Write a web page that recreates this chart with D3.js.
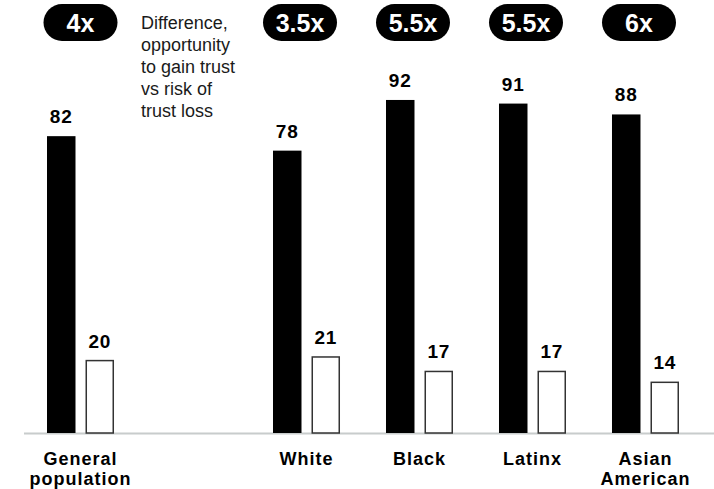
<!DOCTYPE html>
<html lang="en">
<head>
    <meta charset="UTF-8">
    <title>Trust gain vs trust loss</title>
    <script src="https://cdn.jsdelivr.net/npm/d3@7/dist/d3.min.js"></script>
    <style>
        body { margin: 0; background: #fff; font-family: "Liberation Sans", Arial, sans-serif; }
    </style>
</head>
<body>
    <div id="chart"></div>
    <script>
        // data ("" is the empty slot that holds the note)
        const categories = ["General population", "", "White", "Black", "Latinx", "Asian American"];
        const groups = ["General population", "White", "Black", "Latinx", "Asian American"];
        const trustGain = [82, 78, 92, 91, 88];
        const trustLoss = [20, 21, 17, 17, 14];
        const ratios = ["4x", "3.5x", "5.5x", "5.5x", "6x"];
        const noteLines = ["Difference,", "opportunity", "to gain trust", "vs risk of", "trust loss"];

        const width = 714, height = 489;
        const baseY = 433;

        const svg = d3.select("#chart").append("svg")
            .attr("width", width)
            .attr("height", height);

        const x = d3.scaleBand()
            .domain(categories)
            .range([24.4, 701.6])
            .paddingInner(0.407)
            .paddingOuter(0.2);

        const xSub = d3.scaleBand()
            .domain(["gain", "loss"])
            .range([0, x.bandwidth()])
            .paddingInner(0.26);

        const y = d3.scaleLinear().domain([0, 100]).range([baseY, 71]);

        const rows = groups.map((g, i) => ({
            group: g, gain: trustGain[i], loss: trustLoss[i], ratio: ratios[i], first: i === 0
        }));

        // baseline
        svg.append("line")
            .attr("x1", 24).attr("x2", width)
            .attr("y1", baseY + 0.5).attr("y2", baseY + 0.5)
            .attr("stroke", "#c8cccc")
            .attr("stroke-width", 2);

        const g = svg.selectAll("g.group")
            .data(rows)
            .enter().append("g")
            .attr("class", "group")
            .attr("transform", d => `translate(${x(d.group)},0)`);

        // black bars
        g.append("rect")
            .attr("x", xSub("gain"))
            .attr("y", d => y(d.gain))
            .attr("width", xSub.bandwidth())
            .attr("height", d => y(0) - y(d.gain))
            .attr("fill", "#000");

        // outlined bars
        g.append("rect")
            .attr("x", xSub("loss") + 0.75)
            .attr("y", d => y(d.loss))
            .attr("width", xSub.bandwidth() - 1.5)
            .attr("height", d => y(0) - y(d.loss))
            .attr("fill", "#fff")
            .attr("stroke", "#333")
            .attr("stroke-width", 1.5);

        // value labels
        g.append("text")
            .attr("x", xSub("gain") + xSub.bandwidth() / 2)
            .attr("y", d => y(d.gain) - 13)
            .attr("text-anchor", "middle")
            .style("font-size", "19px")
            .style("font-weight", "bold")
            .style("letter-spacing", "0.8px")
            .text(d => d.gain);

        g.append("text")
            .attr("x", xSub("loss") + xSub.bandwidth() / 2)
            .attr("y", d => y(d.loss) - 13)
            .attr("text-anchor", "middle")
            .style("font-size", "19px")
            .style("font-weight", "bold")
            .style("letter-spacing", "0.8px")
            .text(d => d.loss);

        // ratio pills
        const pillW = 74, pillH = 37;
        const pill = g.append("g")
            .attr("transform", d => `translate(${x.bandwidth() / 2 - (d.first ? 0 : 6.5)},${4 + pillH / 2})`);
        pill.append("rect")
            .attr("x", -pillW / 2).attr("y", -pillH / 2)
            .attr("width", pillW).attr("height", pillH)
            .attr("rx", pillH / 2)
            .attr("fill", "#000");
        pill.append("text")
            .attr("y", 9)
            .attr("text-anchor", "middle")
            .attr("fill", "#fff")
            .style("font-size", "25px")
            .style("font-weight", "bold")
            .text(d => d.ratio);

        // category labels
        g.append("text")
            .attr("x", x.bandwidth() / 2)
            .attr("y", 465)
            .attr("text-anchor", "middle")
            .style("font-size", "18px")
            .style("font-weight", "bold")
            .style("letter-spacing", "1px")
            .each(function(d) {
                const words = d.group.split(" ");
                words.forEach((w, i) => {
                    d3.select(this).append("tspan")
                        .attr("x", x.bandwidth() / 2)
                        .attr("dy", i === 0 ? 0 : 20)
                        .text(w);
                });
            });

        // note in the empty slot
        svg.append("text")
            .attr("x", x("") + x.bandwidth() / 2 - 52.5)
            .attr("y", 29)
            .style("font-size", "18px")
            .attr("fill", "#1a1a1a")
            .selectAll("tspan")
            .data(noteLines)
            .enter().append("tspan")
            .attr("x", x("") + x.bandwidth() / 2 - 52.5)
            .attr("dy", (d, i) => i === 0 ? 0 : 22)
            .text(d => d);
    </script>
</body>
</html>
